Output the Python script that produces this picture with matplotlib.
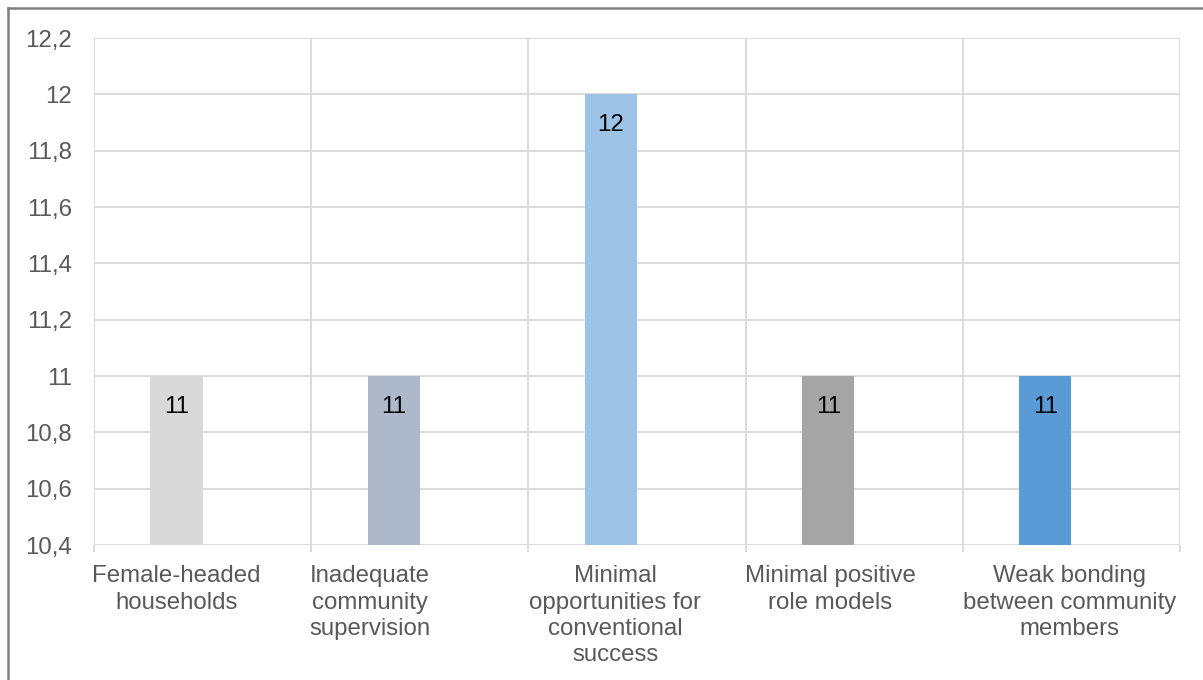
import numpy as np
import matplotlib
matplotlib.use('Agg')
import matplotlib.pyplot as plt
from matplotlib.lines import Line2D
import matplotlib.transforms as mtrans

plt.rcParams['font.family'] = ['Liberation Sans', 'DejaVu Sans']

categories = ['Female-headed\nhouseholds',
              'Inadequate\ncommunity\nsupervision',
              'Minimal\nopportunities for\nconventional\nsuccess',
              'Minimal positive\nrole models',
              'Weak bonding\nbetween community\nmembers']
values = [11, 11, 12, 11, 11]
colors = ['#D9D9D9', '#ADB9CA', '#9DC3E6', '#A5A5A5', '#5B9BD5']
yticks = [10.4, 10.6, 10.8, 11.0, 11.2, 11.4, 11.6, 11.8, 12.0, 12.2]

# label nudges (data units) so the text sits like the original
label_shift = [0.0, -0.11, 0.02, 0.01, 0.11]

fig = plt.figure(figsize=(12.03, 6.8), dpi=100)
ax = fig.add_axes([94/1203, 1-545/680, (1180-94)/1203, (545-38)/680])

x = np.arange(len(values))
bx = x - 0.12
bars = ax.bar(bx, values, width=0.24, color=colors, zorder=3, bottom=0)

ax.set_ylim(10.4, 12.2)
ax.set_xlim(-0.5, len(values) - 0.5)
ax.set_yticks(yticks)
ax.set_yticklabels([('%g' % t).replace('.', ',') for t in yticks])
ax.tick_params(axis='y', length=0, pad=16, labelsize=17.3, labelcolor='#595959')

ax.set_xticks([])
ax.set_xticks(np.arange(len(values) + 1) - 0.5, minor=True)
ax.tick_params(axis='x', which='minor', length=5, width=1.3, color='#D9D9D9')
ax.grid(axis='x', which='minor', color='#D9D9D9', lw=1.3, zorder=0)
ax.grid(axis='y', color='#D9D9D9', lw=1.3, zorder=0)
for s in ax.spines.values():
    s.set_visible(False)

for b, v in zip(bars, values):
    ax.annotate('%d' % v, (b.get_x() + b.get_width()/2, v), xytext=(0, -22),
                textcoords='offset points', ha='center', va='center',
                fontsize=17.3, color='#000000', zorder=4)

tr = mtrans.blended_transform_factory(ax.transData, ax.transAxes)
for i, lab in enumerate(categories):
    ax.text(bx[i] + label_shift[i], -0.04, lab, transform=tr, ha='center', va='top',
            multialignment='center', fontsize=17.3, color='#595959',
            linespacing=1.25)

# outer frame (top and left edges visible in the original)
fig.add_artist(Line2D([8/1203, 8/1203], [0, 1-8/680], transform=fig.transFigure,
                      color='#808080', lw=1.8))
fig.add_artist(Line2D([8/1203, 1], [1-8/680, 1-8/680], transform=fig.transFigure,
                      color='#808080', lw=1.8))

fig.savefig('out.png', dpi=100)
